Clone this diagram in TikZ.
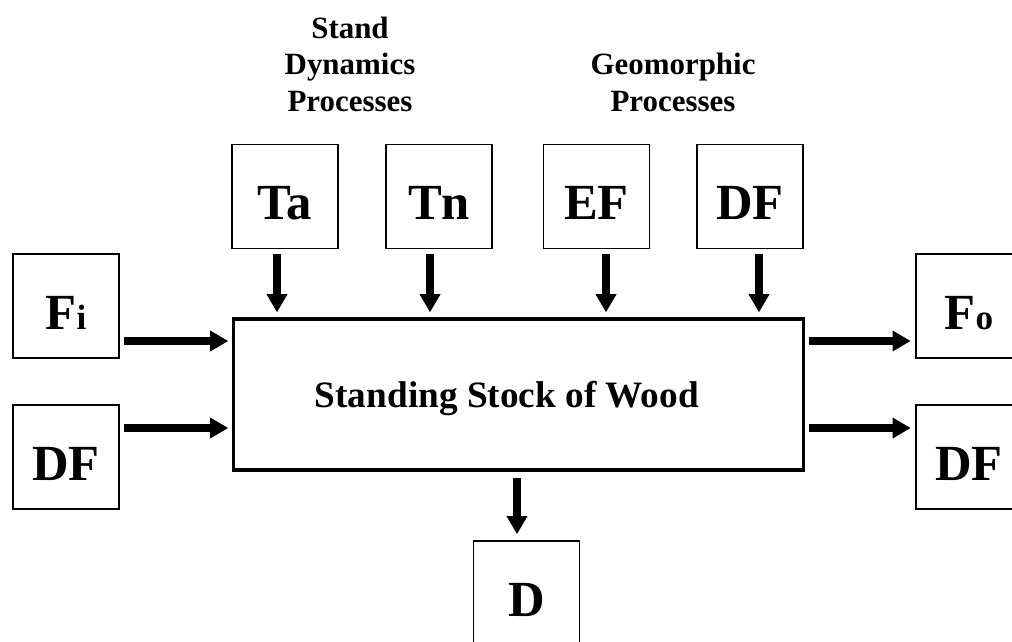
\documentclass[tikz,border=0pt]{standalone}
\usepackage{fontspec}
\setmainfont{Liberation Serif}
\usepackage{tikz}
\usetikzlibrary{arrows.meta}

\begin{document}
\begin{tikzpicture}[x=0.025cm, y=-0.025cm]
\tikzstyle{proc}   = [rectangle, draw=black, line width=1pt, minimum width=2.65cm, minimum height=2.6cm, inner sep=0pt, text height=33pt, text depth=0pt, font=\fontsize{36pt}{40pt}\selectfont\bfseries]
\tikzstyle{stockbox} = [rectangle, draw=black, line width=2.2pt, minimum width=14.225cm, minimum height=3.775cm, inner sep=0pt, text depth=0pt, font=\fontsize{26.5pt}{30pt}\selectfont\bfseries]
\tikzstyle{heading} = [align=center, inner sep=0pt, font=\fontsize{22pt}{26pt}\selectfont\bfseries]
\tikzstyle{flow}   = [line width=5pt, -{Triangle[length=13pt, width=14pt]}]
\clip (0,0) rectangle (1012,641);
\node[heading] at (350, 64)   (stand){Stand\\Dynamics\\Processes};
\node[heading] at (673, 82.5) (geomorph){Geomorphic\\Processes};
\node[proc] at (285, 196.5)   (ta){Ta};
\node[proc] at (439, 196.5)   (tn){Tn};
\node[proc] at (596.5, 196.5) (ef){EF};
\node[proc] at (750, 196.5)   (dft){DF};
\node[proc] at (66, 306)      (fi){F{\fontsize{25pt}{27pt}\selectfont i}};
\node[proc] at (66, 457)      (dfl){DF};
\node[proc] at (969, 306)     (fo){F{\fontsize{25pt}{27pt}\selectfont o}};
\node[proc] at (969, 457)     (dfr){DF};
\node[proc] at (526.5, 593)   (d){D};
\node[stockbox] at (518.5, 394.5) (stock){Standing Stock of Wood\hspace*{16.5pt}};
\draw[flow] ([shift={(-8,5)}]ta.south)   -- ([shift={(-8,-5)}]ta.south |- stock.north);
\draw[flow] ([shift={(-9,5)}]tn.south)   -- ([shift={(-9,-5)}]tn.south |- stock.north);
\draw[flow] ([shift={(9.5,5)}]ef.south)  -- ([shift={(9.5,-5)}]ef.south |- stock.north);
\draw[flow] ([shift={(9,5)}]dft.south)   -- ([shift={(9,-5)}]dft.south |- stock.north);
\draw[flow] ([shift={(4.5,35)}]fi.east)  -- ([shift={(-4,35)}]fi.east -| stock.west);
\draw[flow] ([shift={(4.5,-29)}]dfl.east) -- ([shift={(-4,-29)}]dfl.east -| stock.west);
\draw[flow] ([shift={(4,35)}]fo.west -| stock.east)  -- ([shift={(-4.5,35)}]fo.west);
\draw[flow] ([shift={(4,-29)}]dfr.west -| stock.east) -- ([shift={(-4.5,-29)}]dfr.west);
\draw[flow] ([shift={(-9.5,6)}]d.north |- stock.south) -- ([shift={(-9.5,-6)}]d.north);
\end{tikzpicture}
\end{document}
